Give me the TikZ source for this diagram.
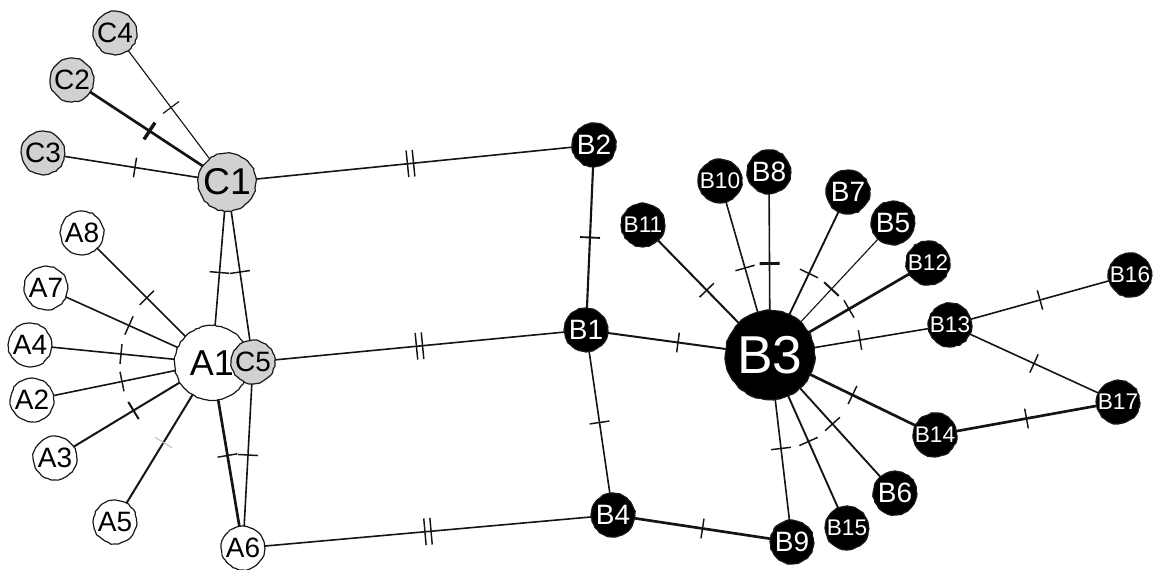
\documentclass[tikz,border=0pt]{standalone}
\usepackage{fontspec}
\setmainfont{Liberation Sans}
\usetikzlibrary{decorations.pathmorphing,decorations.markings,backgrounds}
\begin{document}
\pgfmathsetseed{7}
\begin{tikzpicture}[x=0.75pt,y=-0.75pt,
  nd/.style={circle, draw=black!90, line width=0.9pt, inner sep=0pt, minimum size=32.5pt,
    font=\fontsize{21}{21}\selectfont,
    decorate, decoration={random steps, segment length=2.5pt, amplitude=0.45pt}},
  an/.style={nd, fill=white},
  cn/.style={nd, fill=black!18},
  bn/.style={nd, fill=black, text=white},
  three/.style={font=\fontsize{17}{17}\selectfont},
  ed/.style={draw=black!92, line width=1.2pt},
  thinE/.style={ed, line width=0.85pt},
  thickE/.style={ed, line width=2pt},
  onetick/.style={postaction={decorate, decoration={markings,
    mark=at position 0.5 with {\draw[black!92, line width=#1] (0pt,-7.5pt) -- (0pt,7.5pt);}}}},
  onetick/.default=1.1pt,
  faintick/.style={postaction={decorate, decoration={markings,
    mark=at position 0.5 with {\draw[black!22, line width=0.9pt] (0pt,-7.5pt) -- (0pt,7.5pt);}}}},
  twotick/.style={postaction={decorate, decoration={markings,
    mark=at position 0.5 with {\draw[black!92, line width=1.1pt] (-2.3pt,-10pt) -- (-2.3pt,10pt) (2.3pt,-10pt) -- (2.3pt,10pt);}}}}
]
\useasboundingbox (0,0) rectangle (1157,570);

% C nodes
\node[cn] (C4) at (115,33) {C4};
\node[cn] (C2) at (72,80) {C2};
\node[cn] (C3) at (43,153) {C3};
\node[cn, minimum size=43.5pt, font=\fontsize{28}{28}\selectfont] (C1) at (227,182) {C1};

% A nodes
\node[an] (A8) at (82,233) {A8};
\node[an] (A7) at (46,288) {A7};
\node[an] (A4) at (30,345) {A4};
\node[an] (A2) at (32,400) {A2};
\node[an] (A3) at (55,458) {A3};
\node[an] (A5) at (115,522) {A5};
\node[an, minimum size=56pt, font=\fontsize{27}{27}\selectfont] (A1) at (212,363) {A1\hspace{6pt}};
\node[cn] (C5) at (253,362) {C5};
\node[an] (A6) at (243,548) {A6};

% B nodes
\node[bn] (B2) at (594,145) {B2};
\node[bn] (B1) at (586,330) {B1};
\node[bn] (B4) at (613,515) {B4};
\node[bn, minimum size=67pt, font=\fontsize{40}{40}\selectfont] (B3) at (770,355) {B3};
\node[bn, three] (B11) at (643,225) {B11};
\node[bn, three] (B10) at (720,181) {B10};
\node[bn] (B8) at (769,172) {B8};
\node[bn] (B7) at (848,192) {B7};
\node[bn] (B5) at (893,223) {B5};
\node[bn, three] (B12) at (928,263) {B12};
\node[bn, three] (B13) at (950,325) {B13};
\node[bn, three] (B16) at (1130,275) {B16};
\node[bn, three] (B17) at (1118,402) {B17};
\node[bn, three] (B14) at (935,435) {B14};
\node[bn] (B6) at (895,493) {B6};
\node[bn, three] (B15) at (847,528) {B15};
\node[bn] (B9) at (792,542) {B9};

\begin{scope}[on background layer]
  % C cluster
  \draw[thinE, onetick=0.9pt] (C4.center) -- (C1.center);
  \draw[thickE, onetick=2.6pt] (C2.center) -- (C1.center);
  \draw[ed, onetick] (C3.center) -- (C1.center);
  \draw[ed, twotick] (C1.center) -- (B2.center);
  \draw[ed, onetick] (C1.center) -- (A1.center);
  \draw[ed, onetick] (C1.center) -- (C5.center);
  % A cluster
  \draw[ed, onetick] (A8.center) -- (A1.center);
  \draw[ed, onetick] (A7.center) -- (A1.center);
  \draw[ed, onetick] (A4.center) -- (A1.center);
  \draw[ed, onetick] (A2.center) -- (A1.center);
  \draw[ed, line width=1.5pt, onetick=1.5pt] (A3.center) -- (A1.center);
  \draw[ed, line width=1.5pt, faintick] (A5.center) -- (A1.center);
  \draw[thickE, onetick] (A1.center) -- (A6.center);
  \draw[ed, onetick] (C5.center) -- (A6.center);
  \draw[ed, twotick] (C5.center) -- (B1.center);
  \draw[ed, twotick] (A6.center) -- (B4.center);
  % B backbone
  \draw[ed, line width=1.6pt, onetick=1.4pt] (B2.center) -- (B1.center);
  \draw[ed, onetick] (B1.center) -- (B4.center);
  \draw[ed, line width=1.5pt, onetick] (B1.center) -- (B3.center);
  \draw[thickE, onetick] (B4.center) -- (B9.center);
  % B3 star
  \draw[ed, line width=1.5pt, onetick] (B3.center) -- (B11.center);
  \draw[ed, onetick] (B3.center) -- (B10.center);
  \draw[ed, onetick=2.2pt] (B3.center) -- (B8.center);
  \draw[ed, line width=1.4pt, onetick] (B3.center) -- (B7.center);
  \draw[thinE, onetick=1.5pt] (B3.center) -- (B5.center);
  \draw[thickE, onetick] (B3.center) -- (B12.center);
  \draw[ed, onetick] (B3.center) -- (B13.center);
  \draw[thickE, onetick] (B3.center) -- (B14.center);
  \draw[ed, line width=1.4pt, onetick] (B3.center) -- (B6.center);
  \draw[ed, line width=1.4pt, onetick] (B3.center) -- (B15.center);
  \draw[ed, onetick] (B3.center) -- (B9.center);
  % right
  \draw[ed, onetick] (B13.center) -- (B16.center);
  \draw[ed, onetick] (B13.center) -- (B17.center);
  \draw[thickE, onetick] (B14.center) -- (B17.center);
\end{scope}
\end{tikzpicture}
\end{document}
